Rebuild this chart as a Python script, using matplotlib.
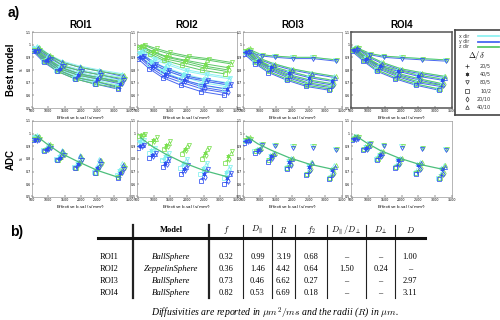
import matplotlib
matplotlib.use('Agg')
import matplotlib.pyplot as plt

# effective b-values of the six shells and protocol legend
b_vals = [600, 950, 1350, 1900, 2500, 3200]
protocols = ['20/5', '40/5', '80/5', '10/2', '20/10', '40/10']
b_shift = [-40, 0, 120, -80, 40, 80]
dir_names = ['x dir', 'y dir', 'z dir']
roi_names = ['ROI1', 'ROI2', 'ROI3', 'ROI4']

# signal per direction (x, y, z) at each shell
roi1_dirs = [[0.97, 0.89, 0.83, 0.78, 0.75, 0.72],
             [0.95, 0.88, 0.82, 0.77, 0.74, 0.70],
             [0.96, 0.89, 0.82, 0.77, 0.74, 0.71]]
roi2_dirs = [[0.94, 0.87, 0.82, 0.77, 0.73, 0.70],
             [0.90, 0.83, 0.77, 0.72, 0.68, 0.65],
             [0.99, 0.95, 0.91, 0.88, 0.85, 0.82]]
roi3_dirs = [[0.95, 0.88, 0.83, 0.78, 0.74, 0.71],
             [0.94, 0.87, 0.82, 0.77, 0.73, 0.70],
             [0.96, 0.88, 0.83, 0.78, 0.74, 0.71]]
roi4_dirs = [[0.97, 0.90, 0.84, 0.79, 0.75, 0.72],
             [0.96, 0.89, 0.83, 0.78, 0.74, 0.71],
             [0.97, 0.90, 0.84, 0.79, 0.75, 0.72]]

# protocol deviation from the direction curve (20/5, 40/5, 80/5, 10/2, 20/10, 40/10)
roi1_offsets = [[0.00, -0.01, -0.02, -0.03, -0.03, -0.04],
                [0.00, 0.00, -0.01, -0.01, -0.01, -0.01],
                [0.00, 0.01, 0.01, 0.02, 0.02, 0.02],
                [0.00, -0.02, -0.03, -0.04, -0.05, -0.05],
                [0.00, 0.00, 0.00, 0.00, 0.00, 0.00],
                [0.02, 0.03, 0.04, 0.05, 0.05, 0.05]]
roi2_offsets = [[0.00, -0.01, -0.02, -0.02, -0.03, -0.03],
                [0.00, 0.00, 0.00, 0.00, 0.00, 0.00],
                [0.01, 0.02, 0.03, 0.03, 0.04, 0.04],
                [-0.01, -0.02, -0.03, -0.04, -0.05, -0.05],
                [0.00, -0.01, -0.01, -0.01, -0.02, -0.02],
                [0.01, 0.01, 0.02, 0.02, 0.03, 0.03]]
roi3_offsets = [[0.00, -0.01, -0.02, -0.03, -0.04, -0.04],
                [0.00, 0.00, 0.00, 0.01, 0.01, 0.01],
                [0.00, 0.04, 0.08, 0.12, 0.16, 0.17],
                [-0.01, -0.02, -0.04, -0.05, -0.06, -0.06],
                [0.00, -0.01, -0.01, -0.02, -0.02, -0.02],
                [0.01, 0.01, 0.02, 0.03, 0.04, 0.04]]
roi4_offsets = [[0.00, -0.01, -0.02, -0.03, -0.04, -0.04],
                [0.00, 0.00, 0.00, 0.01, 0.01, 0.01],
                [0.00, 0.03, 0.07, 0.11, 0.14, 0.16],
                [-0.01, -0.02, -0.04, -0.05, -0.06, -0.07],
                [0.00, -0.01, -0.01, -0.02, -0.02, -0.03],
                [0.01, 0.01, 0.02, 0.02, 0.03, 0.03]]

# monoexponential ADC fit at each shell
roi1_adc = [0.99, 0.92, 0.85, 0.78, 0.71, 0.65]
roi2_adc = [0.97, 0.90, 0.84, 0.77, 0.71, 0.66]
roi3_adc = [0.98, 0.92, 0.87, 0.81, 0.76, 0.72]
roi4_adc = [0.99, 0.93, 0.87, 0.81, 0.76, 0.72]

# table b)
tab_rois = ['ROI1', 'ROI2', 'ROI3', 'ROI4']
tab_models = ['BallSphere', 'ZeppelinSphere', 'BallSphere', 'BallSphere']
col_f = ['0.32', '0.36', '0.73', '0.82']
col_dpar = ['0.99', '1.46', '0.46', '0.53']
col_r = ['3.19', '4.42', '6.62', '6.69']
col_f2 = ['0.68', '0.64', '0.27', '0.18']
col_ratio = ['\u2013', '1.50', '\u2013', '\u2013']
col_dperp = ['\u2013', '0.24', '\u2013', '\u2013']
col_d = ['1.00', '\u2013', '2.97', '3.11']

all_dirs = [roi1_dirs, roi2_dirs, roi3_dirs, roi4_dirs]
all_offsets = [roi1_offsets, roi2_offsets, roi3_offsets, roi4_offsets]
all_adc = [roi1_adc, roi2_adc, roi3_adc, roi4_adc]

marker_styles = ['+', (6, 2, 0), 'v', 's', 'd', '^']
pt_colors = ['#7ff0f0', '#3050f0', '#7ae050']
line_colors = ['#90f2f2', '#4868f0', '#5cc866']
adc_color = '#4cbf7c'

plt.rcParams['mathtext.fontset'] = 'cm'
fig = plt.figure(figsize=(5, 3.2), dpi=100)

col_left = [32, 137, 243, 351]
col_width = [98, 100, 99, 101]
row_top = [32, 121]
ax_h = 76


def px_axes(x, y, w, h):
    return fig.add_axes([x / 500, 1 - (y + h) / 320, w / 500, h / 320])


def style_axes(ax, heavy=False):
    ax.set_xlim(500, 3500)
    ax.set_ylim(0.5, 1.1)
    ax.set_xticks([500, 1000, 1500, 2000, 2500, 3000, 3500])
    ax.set_yticks([0.5, 0.6, 0.7, 0.8, 0.9, 1.0, 1.1])
    ax.set_yticklabels(['0.5', '0.6', '0.7', '0.8', '0.9', '1', '1.1'])
    ax.tick_params(labelsize=2.3, length=1.2, width=0.3, direction='in', pad=1)
    for s in ax.spines.values():
        s.set_linewidth(1.1 if heavy else 0.5)
        s.set_color('#555555' if heavy else '#999999')
    ax.set_xlabel('Effective b-val (s/mm$^2$)', fontsize=3, labelpad=1)


for r in range(4):
    dvals = all_dirs[r]
    offs = all_offsets[r]
    for row in range(2):
        ax = px_axes(col_left[r], row_top[row], col_width[r], ax_h)
        style_axes(ax, heavy=(r == 3 and row == 0))
        if r == 0:
            ax.set_ylabel('S', fontsize=3, labelpad=1)
        if row == 0:
            ax.set_title(roi_names[r], fontsize=7, fontweight='bold',
                         family='Liberation Sans', pad=3)
            for d in [0, 1, 2]:
                for p in range(6):
                    xs = [b + b_shift[p] for b in b_vals]
                    ys = [dvals[d][k] + offs[p][k] for k in range(6)]
                    ax.plot(xs, ys, color=line_colors[d], lw=0.7, zorder=2 + d * 0.1)
        for d in [0, 2, 1]:
            for p in range(6):
                xs = [b + b_shift[p] + (d - 1) * 25 for b in b_vals]
                ys = [dvals[d][k] + offs[p][k] for k in range(6)]
                ax.plot(xs, ys, ls='none', marker=marker_styles[p], ms=2.9,
                        mfc='none', mec=pt_colors[d], mew=0.55, zorder=3)
        if row == 1:
            ax.plot(b_vals, all_adc[r], color=adc_color, lw=0.9, zorder=4)

# overlay in pixel coordinates for labels and table
ov = fig.add_axes([0, 0, 1, 1], zorder=-1)
ov.set_xlim(0, 500)
ov.set_ylim(320, 0)
ov.axis('off')

ov.text(8, 13, 'a)', fontsize=10, fontweight='bold', family='Liberation Sans', va='center')
ov.text(10, 232, 'b)', fontsize=10, fontweight='bold', family='Liberation Sans', va='center')
ov.text(11, 70, 'Best model', fontsize=7, fontweight='bold', family='Liberation Sans',
        rotation=90, ha='center', va='center')
ov.text(11, 159, 'ADC', fontsize=7, fontweight='bold', family='Liberation Sans',
        rotation=90, ha='center', va='center')

# legend box
lg = px_axes(455, 30, 50, 85)
lg.set_xlim(455, 505)
lg.set_ylim(115, 30)
lg.set_xticks([])
lg.set_yticks([])
for s in lg.spines.values():
    s.set_linewidth(1.2)
    s.set_color('#444444')
for i in range(3):
    yy = 36 + 5.5 * i
    lg.text(459, yy, dir_names[i], fontsize=3.3, va='center', color='#333333')
    lg.plot([478, 499], [yy, yy], color=line_colors[i], lw=1.3)
lg.text(476, 56, r'$\Delta/\delta$', fontsize=6, ha='center', va='center')
for i in range(6):
    yy = 66 + 8.2 * i
    lg.plot([467], [yy], ls='none', marker=marker_styles[i], ms=2.6,
            mfc='none', mec='#333333', mew=0.5)
    lg.text(491, yy, protocols[i], fontsize=3.5, ha='right', va='center', color='#333333')

# table
serif = 'Liberation Serif'
vlines = [133, 209, 243, 272, 295, 327, 366, 395]
vwidth = [1.6, 1.6, 0.8, 0.8, 0.8, 0.8, 0.8, 0.8]
for xv, wv in zip(vlines, vwidth):
    ov.plot([xv, xv], [225, 298], color='#222222', lw=wv)
ov.plot([98, 425], [238, 238], color='#111111', lw=2.2)

col_x = [226, 257.5, 283.5, 311, 346.5, 380.5, 410]
headers = [r'$f$', r'$D_\parallel$', r'$R$', r'$f_2$', r'$D_\parallel/D_\perp$',
           r'$D_\perp$', r'$D$']
ov.text(171, 230, 'Model', fontsize=6, fontweight='bold', family=serif,
        ha='center', va='center')
for xc, h in zip(col_x, headers):
    ov.text(xc, 230, h, fontsize=6, ha='center', va='center')

row_y = [257, 269, 281, 293]
columns = [col_f, col_dpar, col_r, col_f2, col_ratio, col_dperp, col_d]
for i, yy in enumerate(row_y):
    ov.text(100, yy, tab_rois[i], fontsize=6, family=serif, va='center')
    ov.text(171, yy, tab_models[i], fontsize=6.3, family=serif, style='italic',
            ha='center', va='center')
    for xc, col in zip(col_x, columns):
        ov.text(xc, yy, col[i], fontsize=6, family=serif, ha='center', va='center')

ov.text(275, 313, r'Diffusivities are reported in $\mu m^2/ms$ and the radii ($R$) in $\mu m$.',
        fontsize=7, family=serif, style='italic', ha='center', va='center')

fig.savefig('out.png', dpi=100)
